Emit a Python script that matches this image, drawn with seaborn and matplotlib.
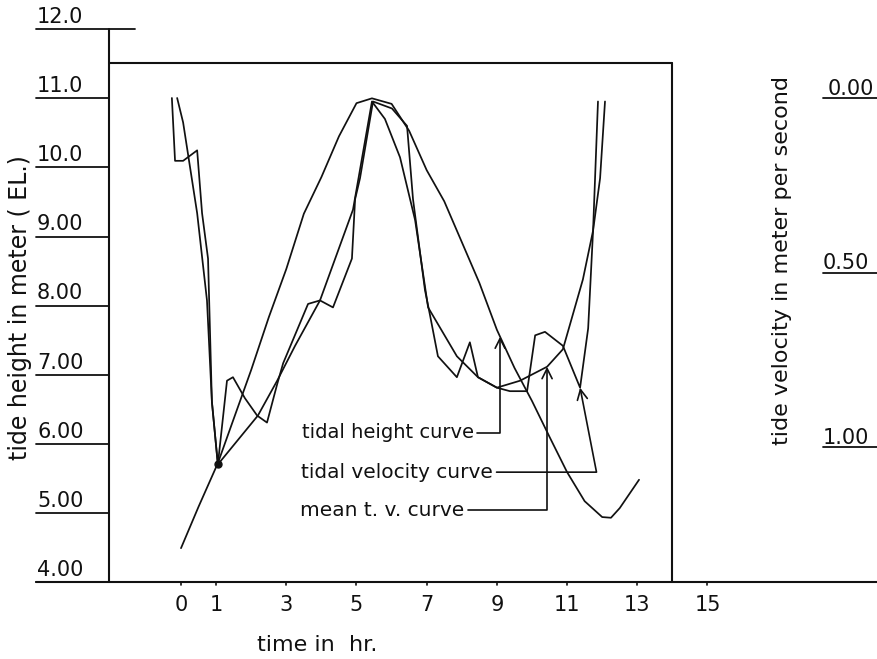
import matplotlib
matplotlib.use("Agg")
import matplotlib.pyplot as plt
import numpy as np
import seaborn as sns

# ---------------- data ----------------
hours_height = [0.0, 0.5, 1.05, 1.5, 2.0, 2.5, 3.0, 3.5, 4.0, 4.5, 5.0, 5.44,
                6.0, 6.5, 7.0, 7.5, 8.0, 8.5, 9.0, 9.5, 10.0, 10.5, 11.0, 11.5,
                12.0, 12.25, 12.5, 13.05]
tide_height = [4.49, 5.09, 5.72, 6.36, 7.07, 7.83, 8.53, 9.33, 9.86, 10.45, 10.93, 11.0,
               10.92, 10.53, 9.96, 9.51, 8.92, 8.33, 7.65, 7.10, 6.62, 6.10, 5.59, 5.17,
               4.94, 4.93, 5.07, 5.48]

hours_velocity = [-0.26, -0.17, 0.06, 0.46, 0.60, 0.77, 0.88, 1.05, 1.31, 1.48, 1.82,
                  2.17, 2.45, 2.74, 2.91, 3.62, 3.96, 4.33, 4.87, 4.96, 5.10, 5.47,
                  6.01, 6.44, 6.61, 6.95, 7.09, 7.32, 7.86, 8.23, 8.46, 9.0, 9.37,
                  9.86, 10.09, 10.37, 10.88, 11.37, 11.60, 11.74, 11.88]
tide_velocity = [0.0, 0.18, 0.18, 0.15, 0.33, 0.46, 0.87, 1.05, 0.81, 0.80, 0.86,
                 0.91, 0.93, 0.82, 0.76, 0.59, 0.58, 0.60, 0.46, 0.29, 0.23, 0.01,
                 0.03, 0.08, 0.29, 0.55, 0.62, 0.74, 0.80, 0.70, 0.80, 0.83, 0.84,
                 0.84, 0.68, 0.67, 0.71, 0.83, 0.66, 0.38, 0.01]

hours_mean = [-0.11, 0.06, 0.46, 0.74, 0.88, 1.05, 2.19, 2.74, 3.25, 3.96, 4.90, 5.44,
              5.81, 6.24, 6.67, 7.04, 7.86, 8.46, 9.0, 9.66, 10.43, 10.88, 11.45,
              11.74, 11.94, 12.08]
mean_velocity = [0.0, 0.07, 0.33, 0.58, 0.87, 1.05, 0.91, 0.81, 0.71, 0.58, 0.32, 0.01,
                 0.06, 0.17, 0.35, 0.60, 0.74, 0.80, 0.83, 0.81, 0.77, 0.72, 0.52,
                 0.38, 0.23, 0.01]

height_ticks = [4.0, 5.0, 6.0, 7.0, 8.0, 9.0, 10.0, 11.0, 12.0]
height_tick_labels = ["4.00", "5.00", "6.00", "7.00", "8.00", "9.00", "10.0", "11.0", "12.0"]
hour_ticks = [0, 1, 3, 5, 7, 9, 11, 13, 15]
hour_tick_labels = ["0", "1", "3", "5", "7", "9", "11", "13", "15"]
velocity_ticks = [0.0, 0.5, 1.0]
velocity_tick_labels = ["0.00", "0.50", "1.00"]

# ---------------- style ----------------
sns.set_style("white")
plt.rcParams["font.family"] = ["DejaVu Sans"]
INK = "#111111"
LW_CURVE = 1.25
LW_AXIS = 1.5

fig = plt.figure(figsize=(8.78, 6.59), dpi=100)
ax = fig.add_axes([0, 0, 1, 1])
ax2 = ax.twinx()

# ---------------- curves ----------------
sns.lineplot(x=hours_height, y=tide_height, ax=ax, sort=False, estimator=None,
             color=INK, linewidth=LW_CURVE)
sns.lineplot(x=hours_velocity, y=tide_velocity, ax=ax2, sort=False, estimator=None,
             color=INK, linewidth=LW_CURVE)
sns.lineplot(x=hours_mean, y=mean_velocity, ax=ax2, sort=False, estimator=None,
             color=INK, linewidth=LW_CURVE)
# junction node of the curves at about 1 hr
ax2.plot([hours_velocity[7]], [tide_velocity[7]], marker="o", ms=5, color=INK)

# ---------------- scales (frame is hand-drawn) ----------------
x_lo, x_hi = -5.157, 19.858
ax.set_xlim(x_lo, x_hi)
ax.set_ylim(2.886, 12.423)
ax2.set_ylim(1.6074, -0.2808)
ax.axis("off")
ax2.axis("off")

left_axis_x = -2.05
box_right = 14.0
box_top = 11.51
tick_start = -4.13

ax.plot([left_axis_x, left_axis_x], [height_ticks[0], height_ticks[-1]], color=INK, lw=LW_AXIS)
ax.plot([left_axis_x, box_right], [box_top, box_top], color=INK, lw=LW_AXIS)
ax.plot([box_right, box_right], [height_ticks[0], box_top], color=INK, lw=LW_AXIS)
ax.plot([tick_start, x_hi], [height_ticks[0], height_ticks[0]], color=INK, lw=LW_AXIS)

for t, lab in zip(height_ticks, height_tick_labels):
    end = -1.31 if t == height_ticks[-1] else left_axis_x
    ax.plot([tick_start, end], [t, t], color=INK, lw=1.3)
    ax.text(-4.10, t + 0.09, lab, ha="left", va="baseline", fontsize=15, color=INK)

for t, lab in zip(hour_ticks, hour_tick_labels):
    ax.plot([t, t], [height_ticks[0], height_ticks[0] - 0.04], color=INK, lw=1.2)
    ax.text(t, 3.667, lab, ha="center", va="center", fontsize=15, color=INK)

for t, lab in zip(velocity_ticks, velocity_tick_labels):
    ax2.plot([18.29, x_hi], [t, t], color=INK, lw=1.3)
    cx = 19.09 if t == 0 else 18.95
    ax2.text(cx, t - 0.009, lab, ha="center", va="baseline", fontsize=15, color=INK)

ax.text(3.87, 3.088, "time in  hr.", ha="center", va="center", fontsize=16, color=INK)
ax.text(-4.60, 7.97, "tide height in meter ( EL.)", rotation=90, ha="center",
        va="center", fontsize=17, color=INK)
ax.text(17.12, 8.65, "tide velocity in meter per second", rotation=90, ha="center",
        va="center", fontsize=16, color=INK)

# ---------------- curve labels with leaders ----------------
arrow_kw = dict(arrowstyle="->,head_length=0.5,head_width=0.25", color=INK, lw=1.2,
                shrinkA=0, shrinkB=0)
h_tip = 9.09
ax.annotate("tidal height curve", xy=(h_tip, np.interp(h_tip, hours_height, tide_height)),
            xytext=(3.45, 6.16), ha="left", va="center", fontsize=14, color=INK,
            arrowprops=dict(connectionstyle="angle,angleA=0,angleB=90,rad=0", **arrow_kw))
ax2.annotate("tidal velocity curve", xy=(hours_velocity[37], tide_velocity[37]),
             xytext=(3.43, 5.59), textcoords=ax.transData, ha="left", va="center",
             fontsize=14.5, color=INK,
             arrowprops=dict(connectionstyle="angle,angleA=0,angleB=101,rad=0", **arrow_kw))
ax2.annotate("mean t. v. curve", xy=(hours_mean[20], mean_velocity[20]),
             xytext=(3.40, 5.04), textcoords=ax.transData, ha="left", va="center",
             fontsize=14.5, color=INK,
             arrowprops=dict(connectionstyle="angle,angleA=0,angleB=90,rad=0", **arrow_kw))

fig.savefig("out.png", dpi=100, facecolor="white")
